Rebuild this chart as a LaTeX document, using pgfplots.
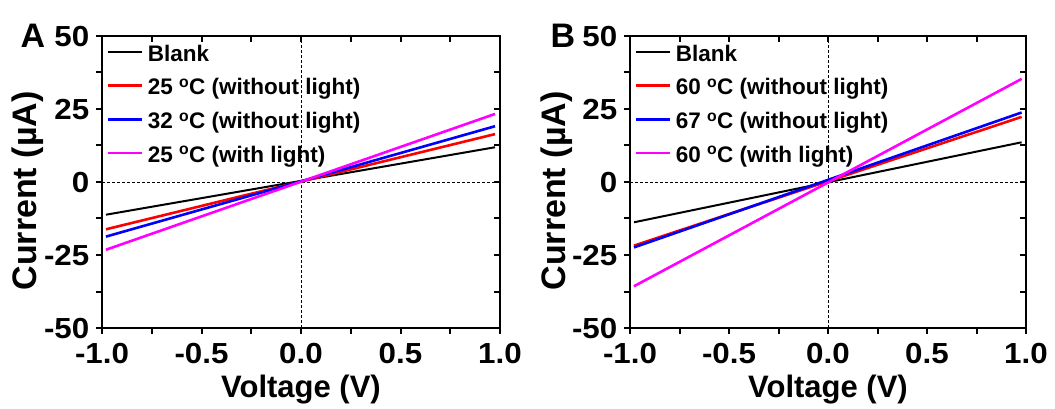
\documentclass[border=0pt]{standalone}
\usepackage{pgfplots}
\pgfplotsset{compat=1.18}
\usepackage{fontspec}
\setmainfont{Liberation Sans}
\definecolor{myred}{RGB}{255,0,0}
\definecolor{myblue}{RGB}{0,0,255}
\definecolor{mymag}{RGB}{255,0,255}
\begin{document}
\begin{tikzpicture}
\useasboundingbox (0pt,0pt) rectangle (1055pt,408pt);
\pgfplotsset{
 common/.style={
  scale only axis, height=292pt, xmin=-1, xmax=1, ymin=-50, ymax=50,
  xtick={-1,-0.5,0,0.5,1}, ytick={-50,-25,0,25,50},
  minor xtick={-0.75,-0.25,0.25,0.75}, minor ytick={-37.5,-12.5,12.5,37.5},
  axis line style={line width=2.6pt},
  major tick length=6pt, minor tick length=6pt,
  tick style={black, line width=2pt},
  anchor=south west,
 },
 main/.style={common, xtick pos=left, ytick pos=left, tick align=outside,
  xticklabels={-1.0,-0.5,0.0,0.5,1.0}, yticklabels={-50,-25,0,25,50},
  ticklabel style={font=\bfseries\fontsize{29}{29}\selectfont, text height=21pt, text depth=0pt, inner sep=0pt, xscale=1.08},
  xticklabel style={yshift=-8pt},
  yticklabel style={xshift=-6pt},
  xlabel={Voltage (V)},
  xlabel style={font=\bfseries\fontsize{31}{31}\selectfont, at={([yshift=-69pt]axis description cs:0.5,0)}, anchor=base},
  ylabel={Current (\textmu A)},
  ylabel style={font=\bfseries\fontsize{34}{34}\selectfont, at={([xshift=-65pt,yshift=-9pt]axis description cs:0,0.5)}, anchor=base},
  legend style={draw=none, fill=none, at={(axis description cs:0,1)}, anchor=north west, xshift=4pt, yshift=-9pt, inner sep=0pt, row sep=12.2pt, column sep=5pt, font=\bfseries\fontsize{22.5}{22.5}\selectfont, nodes={inner sep=0pt, text height=16pt, text depth=5.5pt}},
  legend cell align=left,
  legend image code/.code={\draw[##1] (0pt,4pt) -- (34pt,4pt);},
 },
 over/.style={common, xtick pos=right, ytick pos=right, tick align=inside, xticklabel={\empty}, yticklabel={\empty}},
}
% Panel A
\begin{axis}[main, at={(102pt,80pt)}, width=398pt]
\draw[densely dashed, line width=0.8pt] (axis cs:0,-50) -- (axis cs:0,50);
\draw[densely dashed, line width=0.8pt] (axis cs:-1,0) -- (axis cs:1,0);
\addplot[black, line width=2pt] coordinates {(-0.98,-11.2) (0.975,11.9)};
\addlegendentry{Blank}
\addplot[myred, line width=2.6pt] coordinates {(-0.98,-16.2) (0.975,16.4)};
\addlegendentry{25 \textsuperscript{o}C (without light)}
\addplot[myblue, line width=2.6pt] coordinates {(-0.98,-18.7) (0.975,19.1)};
\addlegendentry{32 \textsuperscript{o}C (without light)}
\addplot[mymag, line width=2.6pt] coordinates {(-0.98,-23.2) (0.975,23.3)};
\addlegendentry{25 \textsuperscript{o}C (with light)}
\end{axis}
\begin{axis}[over, at={(102pt,80pt)}, width=398pt]
\end{axis}
% Panel B
\begin{axis}[main, at={(630pt,80pt)}, width=396pt]
\draw[densely dashed, line width=0.8pt] (axis cs:0,-50) -- (axis cs:0,50);
\draw[densely dashed, line width=0.8pt] (axis cs:-1,0) -- (axis cs:1,0);
\addplot[black, line width=2pt] coordinates {(-0.98,-13.8) (0.978,13.6)};
\addlegendentry{Blank}
\addplot[myred, line width=2.6pt] coordinates {(-0.98,-21.8) (0.978,22.3)};
\addlegendentry{60 \textsuperscript{o}C (without light)}
\addplot[myblue, line width=2.6pt] coordinates {(-0.98,-22.4) (0.978,23.8)};
\addlegendentry{67 \textsuperscript{o}C (without light)}
\addplot[mymag, line width=2.6pt] coordinates {(-0.98,-35.7) (0.978,35.3)};
\addlegendentry{60 \textsuperscript{o}C (with light)}
\end{axis}
\begin{axis}[over, at={(630pt,80pt)}, width=396pt]
\end{axis}
\node[anchor=base, font=\bfseries\fontsize{34}{34}\selectfont] at (33pt,360pt) {A};
\node[anchor=base, font=\bfseries\fontsize{34}{34}\selectfont] at (563pt,360pt) {B};
\end{tikzpicture}
\end{document}
